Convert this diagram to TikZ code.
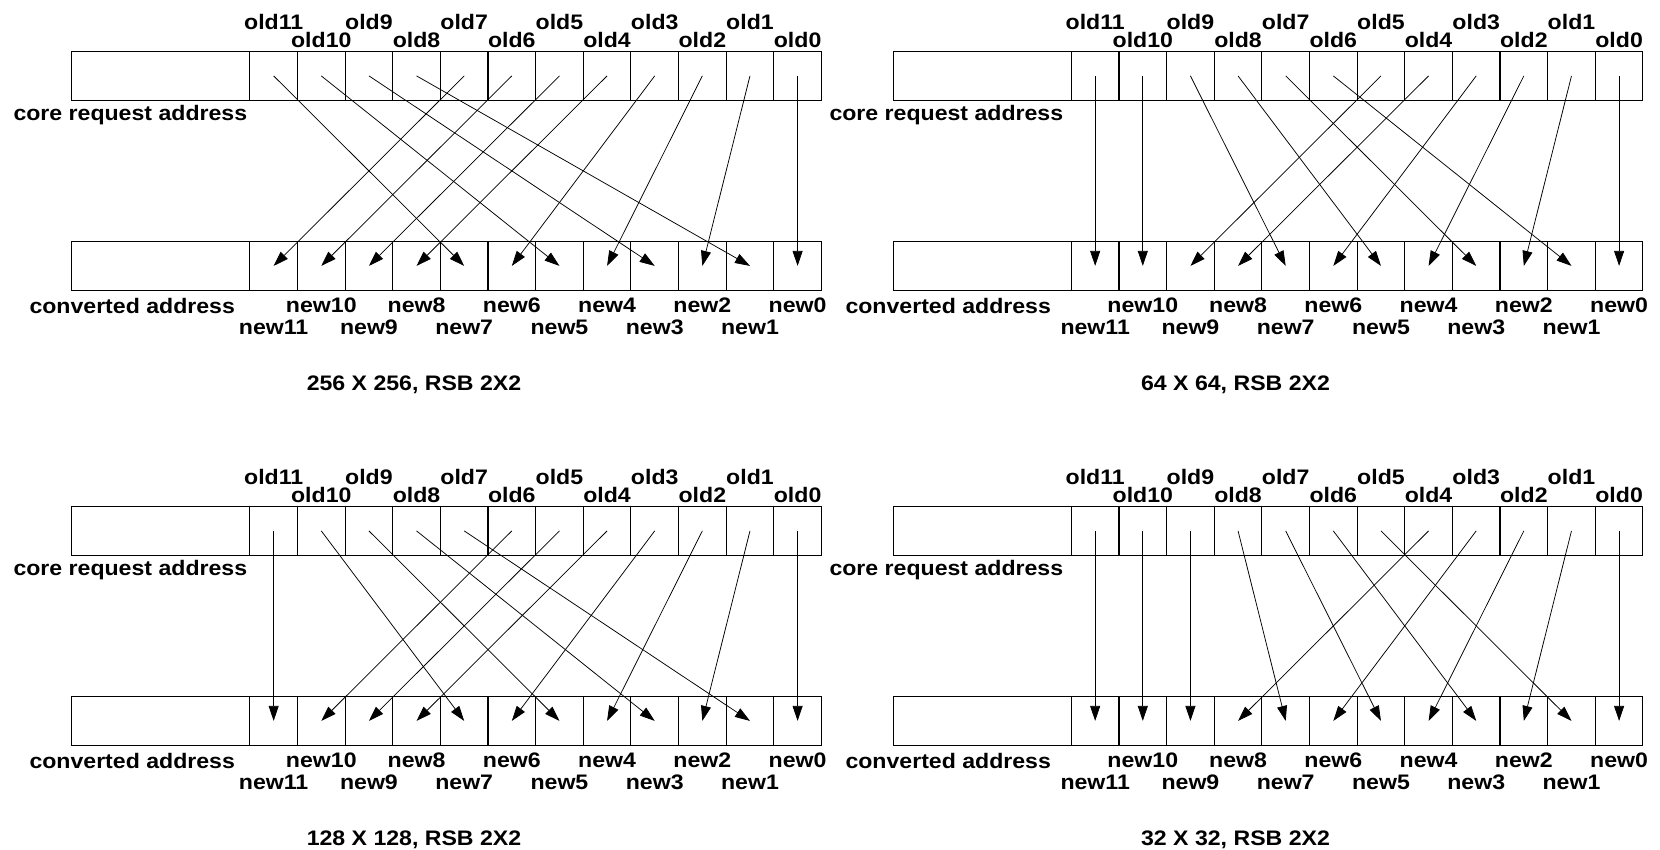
\documentclass[tikz,border=0pt]{standalone}
\usepackage{fontspec}
\setmainfont[FakeStretch=1.1]{Liberation Sans}
\usetikzlibrary{arrows.meta}

\tikzset{
  cell/.style={draw, line width=1.1pt, inner sep=0pt, minimum width=47.63pt,
    minimum height=49.3pt, anchor=north west},
  blank/.style={cell, minimum width=178.3pt},
  lbl/.style={anchor=base, inner sep=0pt, font=\fontsize{21}{24}\selectfont\bfseries},
  bitarrow/.style={-{Triangle[length=15pt, width=10pt]}, line width=0.75pt},
}

\begin{document}
\begin{tikzpicture}[x=1pt, y=-1pt]
    \useasboundingbox (0,0) rectangle (1660,849);

    \foreach \p/\dx/\dy/\tx/\map/\cap in {
        1/0/0/0/{7,6,5,4,11,3,10,2,9,1,8,0}/{256 X 256, RSB 2X2},
        2/821.5/0/816/{11,10,5,4,9,3,8,2,7,1,6,0}/{64 X 64, RSB 2X2},
        3/0/455/0/{11,6,5,4,10,3,9,2,8,1,7,0}/{128 X 128, RSB 2X2},
        4/821.5/455/816/{11,10,9,4,8,3,7,2,6,1,5,0}/{32 X 32, RSB 2X2}} {
        % Vẽ các ô địa chỉ
        \node[blank] (p\p ob) at (\dx+71, \dy+50.7) {};
        \node[blank] (p\p nb) at (\dx+71, \dy+240.7) {};
        \foreach \b in {0,...,11} {
            \node[cell] (p\p o\b) at ({\dx+249.3+(11-\b)*47.63}, \dy+50.7) {};
            \node[cell] (p\p n\b) at ({\dx+249.3+(11-\b)*47.63}, \dy+240.7) {};
        }

        % Đánh nhãn các bit
        \foreach \b in {1,3,...,11} {
            \node[lbl] (p\p lo\b) at ([yshift=21.4pt]p\p o\b.north) {old\b};
            \node[lbl] (p\p ln\b) at ([yshift=-43.5pt]p\p n\b.south) {new\b};
        }
        \foreach \b in {0,2,...,10} {
            \node[lbl] (p\p lo\b) at ([yshift=3pt]p\p o\b.north) {old\b};
            \node[lbl] (p\p ln\b) at ([yshift=-21.3pt]p\p n\b.south) {new\b};
        }
        \node[lbl, anchor=base west] (p\p core) at (\tx+13.3, \dy+120.7) {core request address};
        \node[lbl, anchor=base west] (p\p conv) at (\tx+29.3, \dy+313.3) {converted address};
        \node[lbl] (p\p cap) at (\dx+414, \dy+390.5) {\cap};

        % Vẽ các mũi tên
        \foreach \o [count=\k] in \map {
            \pgfmathtruncatemacro\n{12-\k}
            \draw[bitarrow] (p\p o\o.center) -- (p\p n\n.center);
        }
    }
\end{tikzpicture}
\end{document}
